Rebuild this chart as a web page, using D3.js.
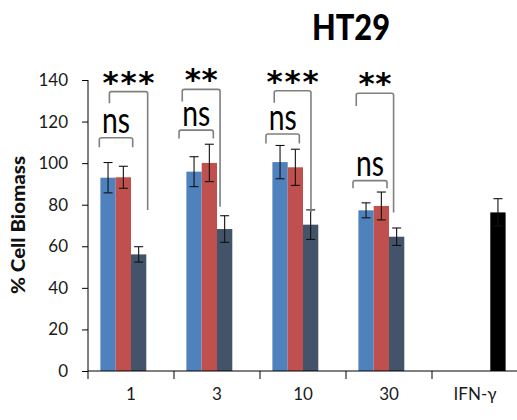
<!DOCTYPE html>
<html>
<head>
<meta charset="utf-8">
<script src="https://cdn.jsdelivr.net/npm/d3@7"></script>
<style>
  html, body { margin: 0; padding: 0; background: #fff; }
  svg { display: block; }
  text { font-family: Lato, "Open Sans", sans-serif; }
</style>
</head>
<body>
<svg id="chart" width="517" height="420"></svg>
<script>
// ---------- data ----------
const categories = ["1", "3", "10", "30", "IFN-γ"];
const seriesKeys = ["a", "b", "c", "ifn"];
const seriesColors = ["#4F81BD", "#C0504D", "#435369", "#000000"];

const blueValues = [93.0, 95.9, 100.5, 77.3, null];
const blueErrors = [7.3, 7.2, 8.0, 3.6, null];
const redValues  = [93.2, 100.1, 98.0, 79.4, null];
const redErrors  = [5.3, 9.0, 8.7, 6.7, null];
const darkValues = [56.1, 68.3, 70.4, 64.6, null];
const darkErrors = [3.7, 6.4, 7.1, 4.2, null];
const ifnValues  = [null, null, null, null, 76.3];
const ifnErrors  = [null, null, null, null, 6.6];

const yTicks = [0, 20, 40, 60, 80, 100, 120, 140];

// significance annotations (x in bar-width units from the group's first bar, y in data units)
const nsCats   = ["1", "3", "10", "30"];
const nsX0     = [-0.07, -0.48, -0.42, -0.35];
const nsX1     = [2.11, 1.76, 1.76, 1.87];
const nsTop    = [112.2, 115.9, 114.0, 91.6];
const nsLeg    = [107.6, 111.9, 109.5, 87.9];

const sigCats   = ["1", "3", "10", "30"];
const sigLabels = ["***", "**", "***", "**"];
const sigX0     = [0.59, -0.27, 0.12, -0.14];
const sigX1     = [3.09, 2.20, 2.52, 2.30];
const sigTop    = [134.4, 135.5, 134.8, 133.6];
const sigLegL   = [128.8, 129.6, 129.1, 127.5];
const sigLegR   = [77.5, 79.0, 76.5, 76.3];

// ---------- build table ----------
const allValues = [blueValues, redValues, darkValues, ifnValues];
const allErrors = [blueErrors, redErrors, darkErrors, ifnErrors];
const bars = [];
categories.forEach((c, i) => {
  seriesKeys.forEach((k, s) => {
    const v = allValues[s][i];
    if (v != null) bars.push({cat: c, key: k, s, value: v, err: allErrors[s][i]});
  });
});

// ---------- layout ----------
const svg = d3.select("#chart");
const plotL = 88, plotR = 518, plotT = 80, plotB = 371;

const x0 = d3.scaleBand().domain(categories).range([plotL, plotR]).paddingInner(0).paddingOuter(0);
const x1 = d3.scaleBand().domain(seriesKeys).range([0, x0.bandwidth()]).paddingInner(0).paddingOuter(0.81);
const y = d3.scaleLinear().domain([0, 140]).range([plotB, plotT]);
const bw = x1.bandwidth();
const xu = (cat, u) => x0(cat) + x1(seriesKeys[0]) + u * bw;

// title
svg.append("text")
  .attr("x", 351).attr("y", 40)
  .attr("text-anchor", "middle")
  .attr("font-weight", "900")
  .attr("font-size", 36)
  .attr("textLength", 78).attr("lengthAdjust", "spacingAndGlyphs")
  .attr("fill", "#000")
  .text("HT29");

// bars
svg.append("g").selectAll("rect").data(bars).join("rect")
  .attr("x", d => x0(d.cat) + x1(d.key))
  .attr("width", bw)
  .attr("y", d => y(d.value))
  .attr("height", d => y(0) - y(d.value))
  .attr("fill", d => seriesColors[d.s]);

// error bars
const eg = svg.append("g").attr("stroke", "#111").attr("stroke-width", 1.1).attr("fill", "none");
bars.forEach(d => {
  const cx = x0(d.cat) + x1(d.key) + bw / 2;
  const yt = y(d.value + d.err), yb = y(d.value - d.err);
  eg.append("line").attr("x1", cx).attr("x2", cx).attr("y1", yt).attr("y2", yb);
  eg.append("line").attr("x1", cx - 4.5).attr("x2", cx + 4.5).attr("y1", yt).attr("y2", yt);
  eg.append("line").attr("x1", cx - 4.5).attr("x2", cx + 4.5).attr("y1", yb).attr("y2", yb);
});

// y axis
const yAxis = svg.append("g")
  .attr("transform", `translate(${plotL},0)`)
  .call(d3.axisLeft(y).tickValues(yTicks).tickSize(6).tickPadding(14));
yAxis.select(".domain").attr("stroke", "#000").attr("d", `M0,${plotT}V${plotB}`);
yAxis.selectAll(".tick line").attr("stroke", "#000");
yAxis.selectAll(".tick text").attr("font-size", 17).attr("fill", "#1a1a1a")
  .style("font-family", "Lato, 'Open Sans', sans-serif");

// x axis
svg.append("line").attr("x1", plotL).attr("x2", plotR - 1).attr("y1", plotB).attr("y2", plotB)
  .attr("stroke", "#000");
svg.append("g").selectAll("line").data(categories).join("line")
  .attr("x1", d => x0(d)).attr("x2", d => x0(d))
  .attr("y1", plotB).attr("y2", plotB + 8)
  .attr("stroke", "#000");
svg.append("g").selectAll("text").data(categories).join("text")
  .attr("x", d => x0(d) + x0.bandwidth() / 2)
  .attr("y", plotB + 28.5)
  .attr("text-anchor", "middle")
  .attr("font-size", 17)
  .attr("fill", "#1a1a1a")
  .text(d => d);

// y axis title
svg.append("text")
  .attr("transform", "translate(25,225) rotate(-90)")
  .attr("text-anchor", "middle")
  .attr("font-weight", "900")
  .attr("font-size", 18)
  .attr("textLength", 138).attr("lengthAdjust", "spacingAndGlyphs")
  .attr("fill", "#111")
  .text("% Cell Biomass");

// brackets
const bg = svg.append("g").attr("stroke", "#7f7f7f").attr("stroke-width", 1.6).attr("fill", "none");
const r = 2;
nsCats.forEach((c, i) => {
  const xa = xu(c, nsX0[i]), xb = xu(c, nsX1[i]);
  const yt = y(nsTop[i]), yl = y(nsLeg[i]);
  bg.append("path").attr("d",
    `M${xa},${yl}V${yt + r}Q${xa},${yt} ${xa + r},${yt}H${xb - r}Q${xb},${yt} ${xb},${yt + r}V${yl}`);
  svg.append("text")
    .attr("x", (xa + xb) / 2).attr("y", yt - 4.5)
    .attr("text-anchor", "middle")
    .attr("font-size", 37)
    .attr("textLength", 28).attr("lengthAdjust", "spacingAndGlyphs")
    .attr("fill", "#000")
    .text("ns");
});
sigCats.forEach((c, i) => {
  const xa = xu(c, sigX0[i]), xb = xu(c, sigX1[i]);
  const yt = y(sigTop[i]), yl = y(sigLegL[i]), yr = y(sigLegR[i]);
  bg.append("path").attr("d",
    `M${xa},${yl}V${yt + r}Q${xa},${yt} ${xa + r},${yt}H${xb - r}Q${xb},${yt} ${xb},${yt + r}V${yr}`);
  const n = sigLabels[i].length;
  svg.append("text")
    .attr("x", (xa + xb) / 2).attr("y", yt + 1)
    .attr("text-anchor", "middle")
    .attr("font-size", 31)
    .attr("font-weight", "bold")
    .attr("textLength", n === 3 ? 52 : 33).attr("lengthAdjust", "spacing")
    .attr("fill", "#000")
    .style("font-family", "'DejaVu Sans', sans-serif")
    .text(sigLabels[i]);
});
</script>
</body>
</html>
